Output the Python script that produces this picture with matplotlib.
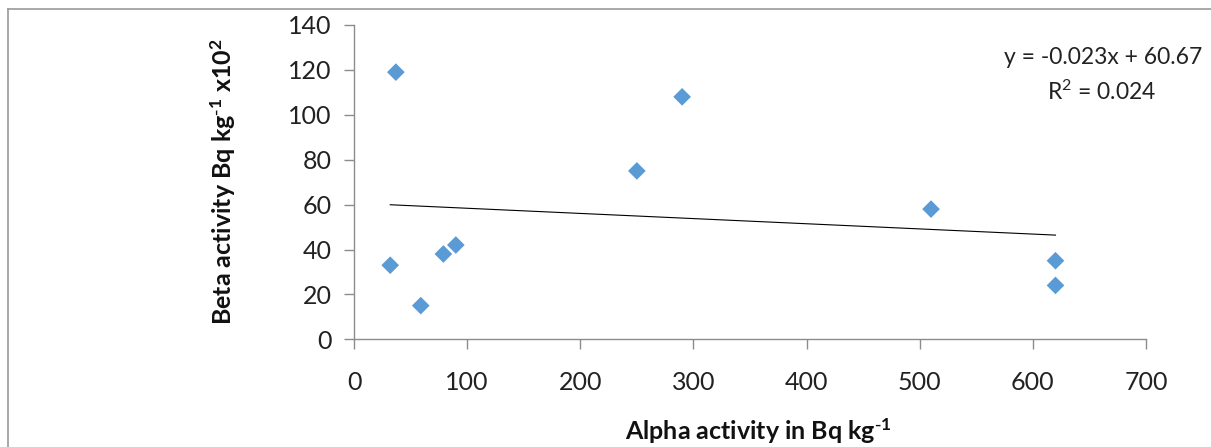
import matplotlib
matplotlib.use("Agg")
import matplotlib.pyplot as plt
from matplotlib.lines import Line2D

# alpha vs beta activity readings
alpha = [37, 32, 59, 79, 90, 250, 290, 510, 620, 620]
beta = [119, 33, 15, 38, 42, 75, 108, 58, 35, 24]

# trendline as printed on the chart
slope = -0.023
intercept = 60.67
r2 = 0.024

x_ticks = [0, 100, 200, 300, 400, 500, 600, 700]
y_ticks = [0, 20, 40, 60, 80, 100, 120, 140]

plt.rcParams["font.family"] = ["Lato", "DejaVu Sans"]
plt.rcParams["mathtext.default"] = "regular"

W, H = 1211, 447
fig = plt.figure(figsize=(W / 100, H / 100), dpi=100)
ax = fig.add_axes([354 / W, 1 - 339.3 / H, (1146 - 354) / W, (339.3 - 25) / H])

ax.scatter(alpha, beta, marker="D", s=9 ** 2, color="#5B9BD5", edgecolors="none", zorder=3)

x0, x1 = min(alpha), max(alpha)
ax.plot([x0, x1], [slope * x0 + intercept, slope * x1 + intercept], color="black", lw=0.8, zorder=2)

ax.set_xlim(0, 700)
ax.set_ylim(0, 140)
ax.set_xticks(x_ticks)
ax.set_yticks(y_ticks)

for s in ["top", "right"]:
    ax.spines[s].set_visible(False)
for s in ["left", "bottom"]:
    ax.spines[s].set_color("#8c8c8c")
    ax.spines[s].set_linewidth(1.0)

ax.tick_params(axis="both", colors="#8c8c8c", labelcolor="#222222", labelsize=18, length=7, width=1.0)
ax.tick_params(axis="y", pad=9)
ax.tick_params(axis="x", pad=16)

# axis titles placed in pixels
fig.text(758 / W, 1 - 431 / H, r"Alpha activity in Bq kg$^{\text{-}1}$",
         ha="center", va="center", fontsize=18, fontweight="bold", color="#111111")
fig.text(223 / W, 1 - 182 / H, r"Beta activity Bq kg$^{\text{-}1}$ x10$^{2}$",
         ha="center", va="center", rotation=90, fontsize=18, fontweight="bold", color="#111111")

fig.text(1103 / W, 1 - 58 / H, f"y = {slope}x + {intercept}", ha="center", va="center", fontsize=16.5, color="#222222")
fig.text(1102 / W, 1 - 92 / H, f"R$^{{2}}$ = {r2}", ha="center", va="center", fontsize=16.5, color="#222222")

# outer chart frame (top and left edges only visible)
fig.add_artist(Line2D([8 / W, 1], [1 - 9 / H, 1 - 9 / H], transform=fig.transFigure, color="#999999", lw=1.2))
fig.add_artist(Line2D([8 / W, 8 / W], [0, 1 - 9 / H], transform=fig.transFigure, color="#999999", lw=1.2))

fig.savefig("out.png", dpi=100)
